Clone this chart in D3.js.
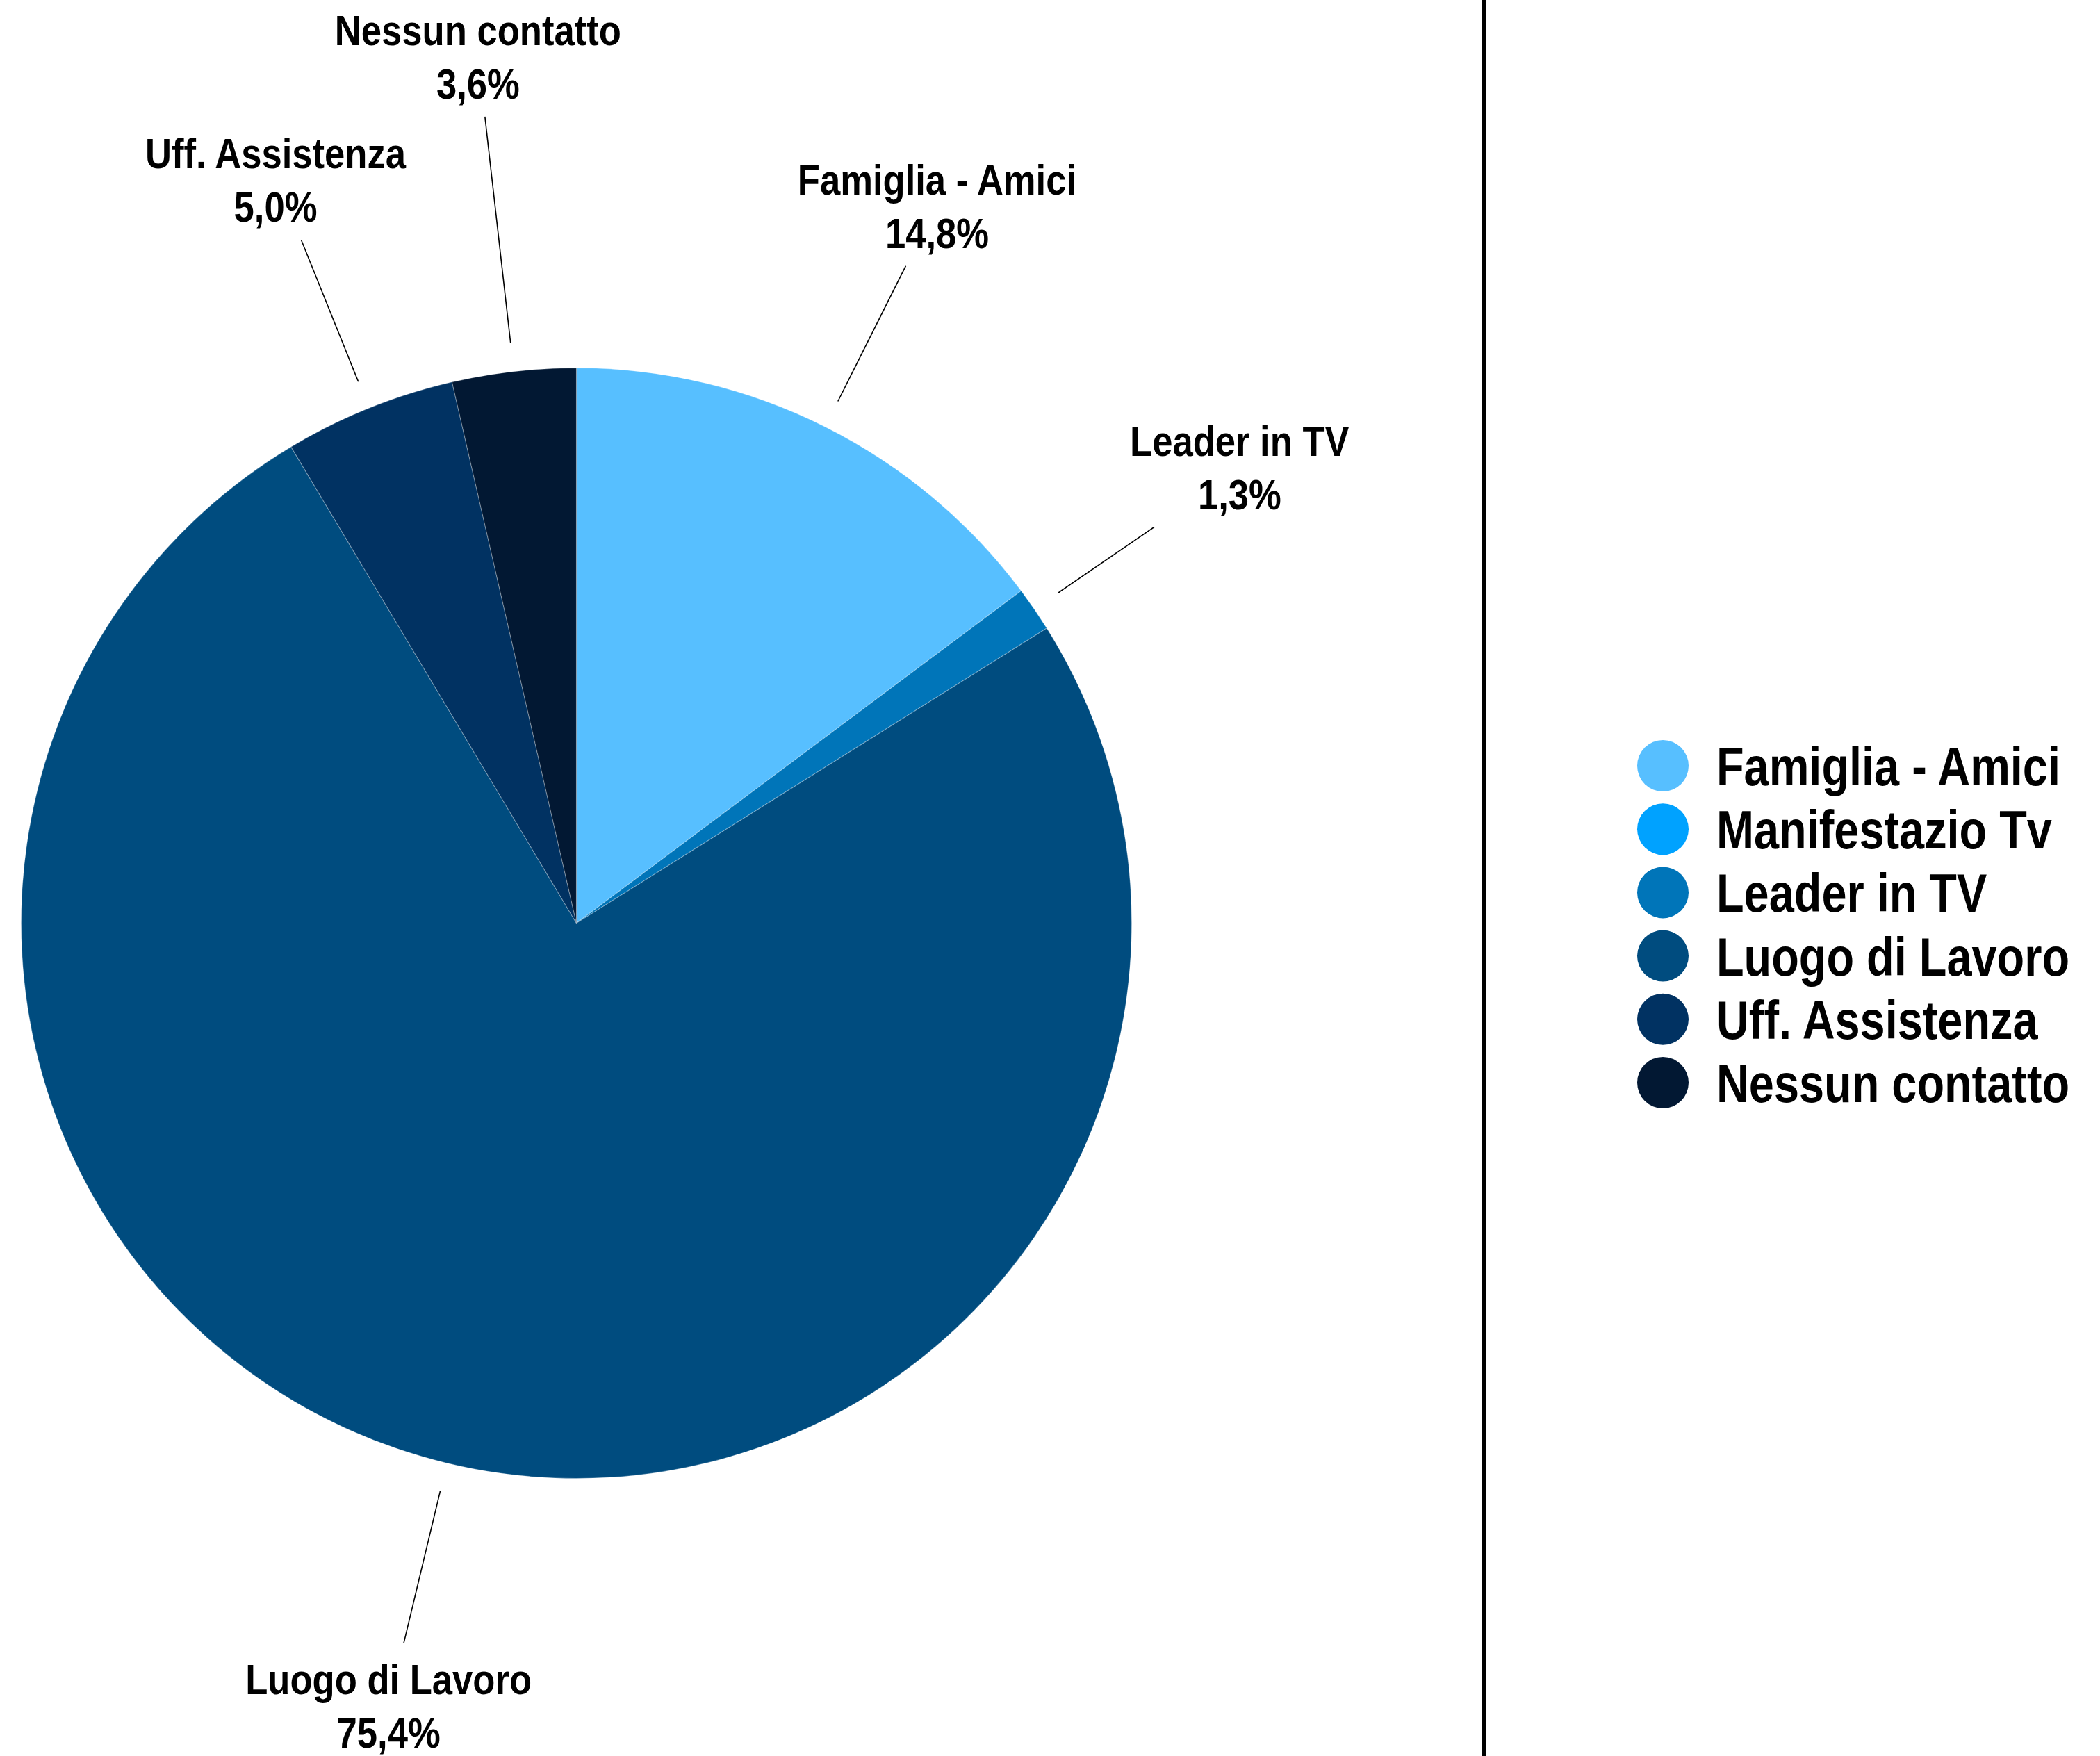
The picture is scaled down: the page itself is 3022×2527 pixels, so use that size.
<!DOCTYPE html>
<html>
<head>
<meta charset="utf-8">
<script src="https://cdn.jsdelivr.net/npm/d3@7"></script>
<style>
  html, body { margin: 0; padding: 0; background: #fff; }
  text { font-family: "Liberation Sans", Arial, sans-serif; font-weight: bold; fill: #000; }
</style>
</head>
<body>
<div id="chart"></div>
<script>
// categories in pie order (clockwise from 12 o'clock)
var categories = ["Famiglia - Amici", "Manifestazio Tv", "Leader in TV", "Luogo di Lavoro", "Uff. Assistenza", "Nessun contatto"];
var values = [14.8, 0, 1.3, 75.4, 5.0, 3.6];
var valueLabels = ["14,8%", "0,0%", "1,3%", "75,4%", "5,0%", "3,6%"];
var colors = ["#57bfff", "#00a2ff", "#0075b9", "#004c7f", "#013262", "#021833"];

// no condensed font installed: squeeze a normal bold face horizontally
function condense(sel, x, targetWidth, refText) {
    var probe = sel.node().ownerSVGElement;
    var tmp = d3.select(probe).append("text")
        .style("font-size", sel.style("font-size"))
        .text(refText);
    var k = targetWidth / tmp.node().getBBox().width;
    tmp.remove();
    sel.attr("transform", function() {
        var xx = typeof x === "function" ? x.apply(this, arguments) : x;
        return "translate(" + xx + ",0) scale(" + k + ",1) translate(" + (-xx) + ",0)";
    });
}

function init() {
    var w = 3022;
    var h = 2527;
    var cx = 829.5, cy = 1328.5;
    var radius = 799;

    // hand placed label boxes (distance of leader line end past the rim, text offset)
    var labelLayout = {
        "Famiglia - Amici": {dist: 259, dx: 45},
        "Leader in TV":     {dist: 209, dx: 123},
        "Luogo di Lavoro":  {dist: 266, dx: -22},
        "Uff. Assistenza":  {dist: 261, dx: -37},
        "Nessun contatto":  {dist: 369, dx: -10}
    };

    var svg = d3.select("#chart")
                .append("svg")
                .attr("width", w)
                .attr("height", h);

    var color = d3.scaleOrdinal()
                  .domain(categories)
                  .range(colors);

    var pie = d3.pie()
                .sort(null)
                .value(function(d) { return d.value; });

    var data = categories.map(function(c, i) {
        return {name: c, value: values[i], label: valueLabels[i]};
    });

    var arcs = pie(data);

    var arc = d3.arc()
                .innerRadius(0)
                .outerRadius(radius);

    var g = svg.append("g")
               .attr("transform", "translate(" + cx + "," + cy + ")");

    g.selectAll("path")
        .data(arcs.filter(function(d) { return d.data.value > 0; }))
        .enter()
        .append("path")
        .attr("d", arc)
        .attr("fill", function(d) { return color(d.data.name); })
        .attr("stroke", "#ffffff")
        .attr("stroke-opacity", 0.25)
        .attr("stroke-width", 1.2);

    // leader lines + labels
    var labelled = arcs.filter(function(d) { return labelLayout[d.data.name]; });

    labelled.forEach(function(d) {
        var lay = labelLayout[d.data.name];
        var a = (d.startAngle + d.endAngle) / 2;
        var p0 = d3.pointRadial(a, radius + 41);
        var p1 = d3.pointRadial(a, radius + lay.dist);
        g.append("line")
            .attr("x1", p0[0]).attr("y1", p0[1])
            .attr("x2", p1[0]).attr("y2", p1[1])
            .attr("stroke", "#000")
            .attr("stroke-width", 1.6);

        var below = p1[1] > 0;
        var y1 = below ? p1[1] + 74 : p1[1] - 103;
        var tx = p1[0] + lay.dx;
        var t = g.append("text")
            .attr("text-anchor", "middle")
            .style("font-size", "61px");
        t.append("tspan")
            .attr("x", tx)
            .attr("y", y1)
            .text(d.data.name);
        t.append("tspan")
            .attr("x", tx)
            .attr("y", y1 + 77)
            .text(d.data.label);
        condense(t, tx, 412, "Nessun contatto");
    });

    // divider
    svg.append("line")
        .attr("x1", 2135.5).attr("x2", 2135.5)
        .attr("y1", 0).attr("y2", h)
        .attr("stroke", "#000")
        .attr("stroke-width", 5);

    // legend
    var legend = svg.append("g")
        .attr("transform", "translate(2393,1102)");

    var item = legend.selectAll("g")
        .data(categories)
        .enter()
        .append("g")
        .attr("transform", function(d, i) { return "translate(0," + (i * 91.2) + ")"; });

    item.append("circle")
        .attr("r", 37)
        .attr("fill", function(d) { return color(d); });

    var lt = item.append("text")
        .attr("x", 77)
        .attr("y", 28)
        .style("font-size", "77px")
        .text(function(d) { return d; });
    condense(lt, 77, 495, "Famiglia - Amici");
}
window.onload = init;
</script>
</body>
</html>
